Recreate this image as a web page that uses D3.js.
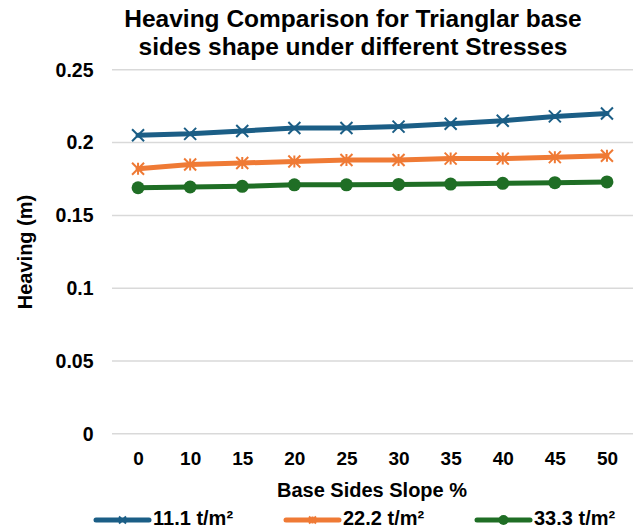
<!DOCTYPE html>
<html>
<head>
<meta charset="utf-8">
<script src="https://cdn.jsdelivr.net/npm/d3@7"></script>
<style>
  html, body { margin: 0; padding: 0; background: #fff; }
  svg { display: block; font-family: "Liberation Sans", Arial, sans-serif; }
</style>
</head>
<body>
<svg id="chart" width="633" height="532"></svg>
<script>
// Base side slopes (%) on the x axis
const slopes = ["0", "10", "15", "20", "25", "30", "35", "40", "45", "50"];
// Heaving (m) for each applied stress
const heave111 = [0.205, 0.206, 0.208, 0.210, 0.210, 0.211, 0.213, 0.215, 0.218, 0.220];
const heave222 = [0.182, 0.185, 0.186, 0.187, 0.188, 0.188, 0.189, 0.189, 0.190, 0.191];
const heave333 = [0.169, 0.1695, 0.170, 0.171, 0.171, 0.1713, 0.1715, 0.172, 0.1725, 0.173];
const yTicks = [0, 0.05, 0.1, 0.15, 0.2, 0.25];
const seriesNames = ["11.1 t/m²", "22.2 t/m²", "33.3 t/m²"];

const series = [
  { name: seriesNames[0], values: heave111, color: "#1b5e86", marker: "x" },
  { name: seriesNames[1], values: heave222, color: "#ef7a35", marker: "star" },
  { name: seriesNames[2], values: heave333, color: "#1f6e25", marker: "circle" }
];

const FONT = "Liberation Sans, Arial, sans-serif";
const svg = d3.select("#chart");
const plot = { left: 112, right: 633, top: 69.8, bottom: 433.8 };

const x = d3.scalePoint().domain(slopes).range([plot.left, plot.right]).padding(0.5);
const y = d3.scaleLinear().domain([0, 0.25]).range([plot.bottom, plot.top]);

// Title
const title = svg.append("text")
  .attr("text-anchor", "middle")
  .attr("font-size", 24.5)
  .attr("font-weight", "bold")
  .attr("fill", "#000");
title.append("tspan").attr("x", 353).attr("y", 27).text("Heaving Comparison for Trianglar base");
title.append("tspan").attr("x", 353).attr("y", 55).text("sides shape under different Stresses");

// Horizontal gridlines
svg.append("g")
  .selectAll("line")
  .data(yTicks)
  .join("line")
  .attr("x1", plot.left).attr("x2", plot.right)
  .attr("y1", d => y(d)).attr("y2", d => y(d))
  .attr("stroke", "#d9d9d9")
  .attr("stroke-width", 1.5);

// Y axis labels
const yAxis = d3.axisLeft(y).tickValues(yTicks).tickFormat(d => String(d)).tickSize(0).tickPadding(0);
const gy = svg.append("g").attr("transform", `translate(${plot.left - 18.5},0)`).call(yAxis);
gy.select(".domain").remove();
gy.selectAll("text")
  .attr("font-size", 19.5).attr("font-weight", "bold").attr("fill", "#000")
  .attr("font-family", FONT);

// X axis labels
const xAxis = d3.axisBottom(x).tickSize(0).tickPadding(0);
const gx = svg.append("g").call(xAxis);
gx.select(".domain").remove();
gx.selectAll("text")
  .attr("y", 465).attr("dy", 0)
  .attr("font-size", 19).attr("font-weight", "bold").attr("fill", "#000")
  .attr("font-family", FONT);

// Axis titles
svg.append("text")
  .attr("x", 372).attr("y", 497)
  .attr("text-anchor", "middle")
  .attr("font-size", 20).attr("font-weight", "bold")
  .text("Base Sides Slope %");
svg.append("text")
  .attr("transform", "translate(32,252) rotate(-90)")
  .attr("text-anchor", "middle")
  .attr("font-size", 20).attr("font-weight", "bold")
  .text("Heaving (m)");

// Marker drawing
function drawMarker(g, type, color, size) {
  const h = size / 2;
  if (type === "circle") {
    g.append("circle").attr("r", h).attr("fill", color);
  } else {
    g.append("path")
      .attr("d", `M${-h},${-h}L${h},${h}M${-h},${h}L${h},${-h}` +
        (type === "star" ? `M0,${-h}L0,${h}` : ""))
      .attr("stroke", color)
      .attr("stroke-width", 2)
      .attr("fill", "none");
  }
}

const line = d3.line().x((d, i) => x(slopes[i])).y(d => y(d));

const gs = svg.append("g").selectAll("g").data(series).join("g");
gs.append("path")
  .attr("d", d => line(d.values))
  .attr("fill", "none")
  .attr("stroke", d => d.color)
  .attr("stroke-width", 5)
  .attr("stroke-linejoin", "round")
  .attr("stroke-linecap", "round");
gs.each(function (s) {
  d3.select(this).selectAll("g.mk")
    .data(s.values)
    .join("g")
    .attr("class", "mk")
    .attr("transform", (d, i) => `translate(${x(slopes[i])},${y(d)})`)
    .each(function () { drawMarker(d3.select(this), s.marker, s.color, s.marker === "circle" ? 13 : 12); });
});

// Legend
const legendX = [96, 286, 477];
const legendY = 520;
const lg = svg.append("g").selectAll("g").data(series).join("g")
  .attr("transform", (d, i) => `translate(${legendX[i]},${legendY})`);
lg.append("line")
  .attr("x1", 0).attr("x2", 53)
  .attr("stroke", d => d.color)
  .attr("stroke-width", 5)
  .attr("stroke-linecap", "round");
lg.append("g")
  .attr("transform", "translate(26.5,0)")
  .each(function (d) { drawMarker(d3.select(this), d.marker, d.color, d.marker === "circle" ? 10 : 7); });
lg.append("text")
  .attr("x", 57).attr("y", 5)
  .attr("font-size", 20).attr("font-weight", "bold")
  .text(d => d.name);
</script>
</body>
</html>
